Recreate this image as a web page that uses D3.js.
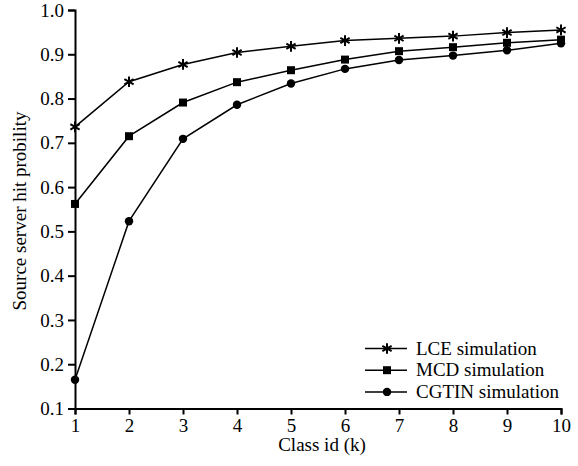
<!DOCTYPE html>
<html>
<head>
<meta charset="utf-8">
<script src="https://cdn.jsdelivr.net/npm/d3@7"></script>
<style>
  body { margin: 0; background: #fff; }
  svg text { font-family: "Liberation Serif", "Times New Roman", serif; fill: #000; }
</style>
</head>
<body>
<div id="chart"></div>
<script>
// chart data
const classIds = [1, 2, 3, 4, 5, 6, 7, 8, 9, 10];
const lceValues = [0.736, 0.838, 0.877, 0.904, 0.918, 0.931, 0.936, 0.941, 0.949, 0.955];
const mcdValues = [0.562, 0.715, 0.791, 0.837, 0.864, 0.888, 0.907, 0.916, 0.926, 0.933];
const cgtinValues = [0.165, 0.523, 0.709, 0.786, 0.834, 0.867, 0.887, 0.897, 0.909, 0.925];
const seriesNames = ["LCE simulation", "MCD simulation", "CGTIN simulation"];
const yTicks = [0.1, 0.2, 0.3, 0.4, 0.5, 0.6, 0.7, 0.8, 0.9, 1.0];

const width = 578;
const height = 466;

const svg = d3.select("#chart")
  .append("svg")
  .attr("width", width)
  .attr("height", height);

const x = d3.scaleLinear().domain([1, 10]).range([75, 561]);
const y = d3.scaleLinear().domain([0.1, 1.0]).range([408.5, 10]);

//axes
const xAxis = svg.append("g")
  .attr("transform", `translate(0,${y(0.1)})`)
  .call(d3.axisBottom(x).tickValues(classIds).tickSize(6).tickPadding(4).tickFormat(d3.format("d")));

const yAxis = svg.append("g")
  .attr("transform", `translate(${x(1)},0)`)
  .call(d3.axisLeft(y).tickValues(yTicks).tickSize(7).tickPadding(4).tickFormat(d3.format(".1f")));

[xAxis, yAxis].forEach((g) => {
  g.select(".domain").attr("stroke", "#000").attr("stroke-width", 2);
  g.selectAll(".tick line").attr("stroke", "#000").attr("stroke-width", 2);
  g.selectAll(".tick text").style("font-size", "19px").attr("fill", "#000");
});

//axis titles
svg.append("text")
  .attr("x", 322)
  .attr("y", 451)
  .attr("text-anchor", "middle")
  .style("font-size", "19px")
  .text("Class id (k)");

svg.append("text")
  .attr("transform", `translate(26,211) rotate(-90)`)
  .attr("text-anchor", "middle")
  .style("font-size", "19px")
  .text("Source server hit probility");

//series
const series = [lceValues, mcdValues, cgtinValues];
const line = d3.line()
  .x((d, i) => x(classIds[i]))
  .y((d) => y(d));

const starSym = d3.symbol().type(d3.symbolAsterisk).size(80);
const squareSym = d3.symbol().type(d3.symbolSquare).size(64);
const circleSym = d3.symbol().type(d3.symbolCircle).size(56);
const symbols = [starSym, squareSym, circleSym];

function drawMarker(g, idx, cx, cy) {
  const p = g.append("path")
    .attr("d", symbols[idx]())
    .attr("transform", `translate(${cx},${cy})`);
  if (idx === 0) {
    p.attr("fill", "none").attr("stroke", "#000").attr("stroke-width", 2);
  } else {
    p.attr("fill", "#000");
  }
}

series.forEach((vals, s) => {
  svg.append("path")
    .datum(vals)
    .attr("d", line)
    .attr("fill", "none")
    .attr("stroke", "#000")
    .attr("stroke-width", 1.5);
  const g = svg.append("g");
  vals.forEach((v, i) => drawMarker(g, s, x(classIds[i]), y(v)));
});

//legend
const legend = svg.append("g");
seriesNames.forEach((name, i) => {
  const cy = 348.5 + i * 21.7;
  legend.append("line")
    .attr("x1", 365).attr("x2", 407)
    .attr("y1", cy).attr("y2", cy)
    .attr("stroke", "#000")
    .attr("stroke-width", 1.5);
  drawMarker(legend, i, 387, cy);
  legend.append("text")
    .attr("x", 416)
    .attr("y", cy + 6)
    .style("font-size", "19px")
    .text(name);
});
</script>
</body>
</html>
